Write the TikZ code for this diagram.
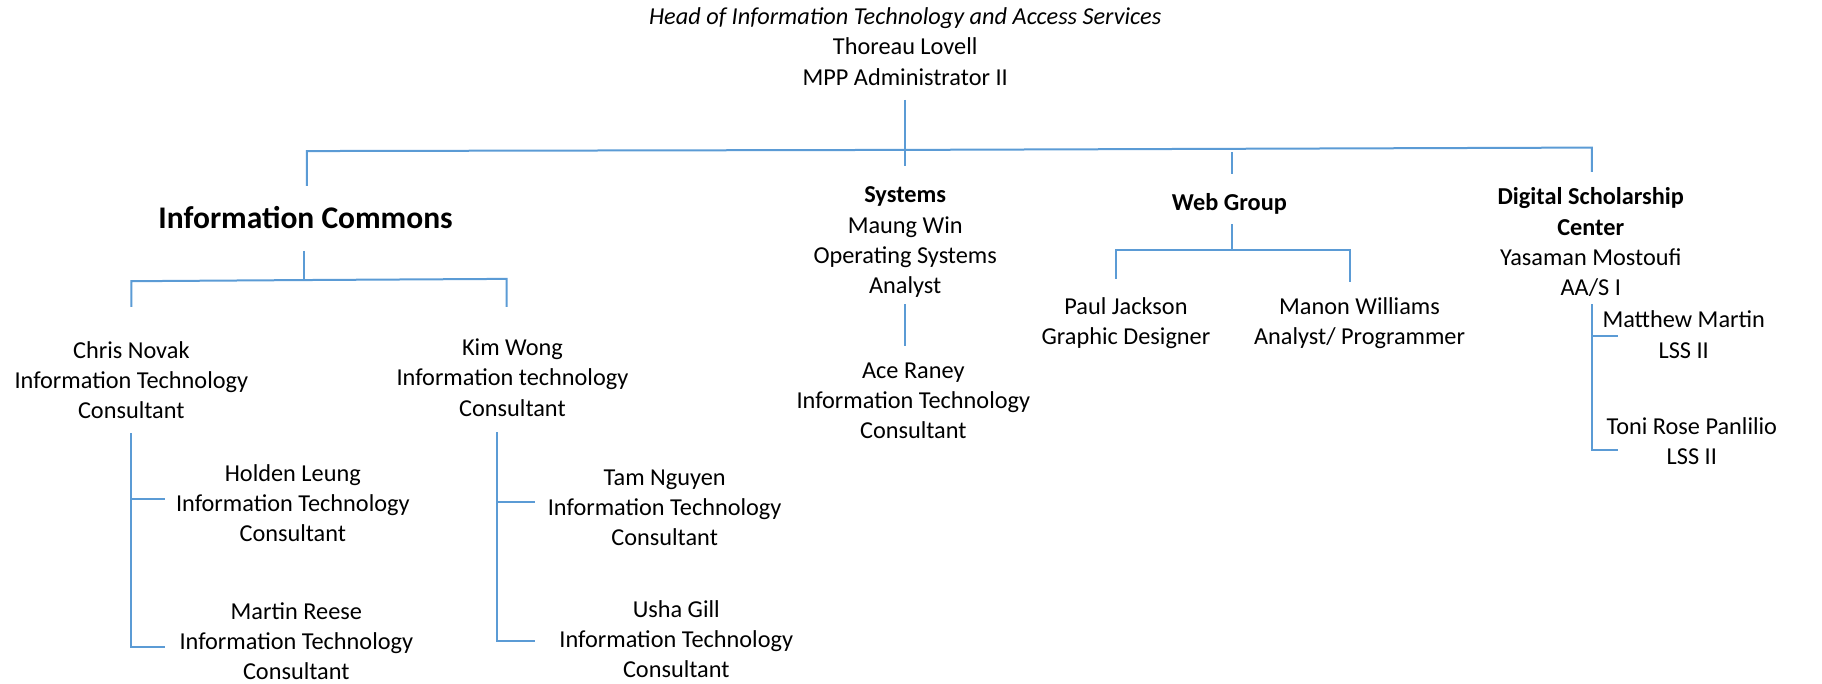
\documentclass[tikz,border=0pt]{standalone}
\usepackage{fontspec}
\setmainfont{Carlito}
\begin{document}
\begin{tikzpicture}[x=1.16199pt,y=-1.16199pt,
  every node/.style={inner sep=0pt,outer sep=0pt,align=center,font=\fontsize{24.3}{30.2}\selectfont},
  conn/.style={draw={rgb,255:red,91;green,155;blue,213},line width=2pt}]
\useasboundingbox (0,0) rectangle (1568,588);
% nodes
\node (head) at (779,40) {\textit{Head of Information Technology and Access Services}\\Thoreau Lovell\\MPP Administrator II};
\node[font=\fontsize{31.5}{36}\selectfont\bfseries] (ic) at (263,187) {Information Commons};
\node (chris) at (113,327) {Chris Novak\\Information Technology\\Consultant};
\node (kim) at (441,325) {Kim Wong\\Information technology\\Consultant};
\node (holden) at (252,433) {Holden Leung\\Information Technology\\Consultant};
\node (martin) at (255,552) {Martin Reese\\Information Technology\\Consultant};
\node (tam) at (572,437) {Tam Nguyen\\Information Technology\\Consultant};
\node (usha) at (582,550) {Usha Gill\\Information Technology\\Consultant};
\node (sys) at (779,208.5) {\textbf{Systems}\\Maung Win\\Operating Systems\\Analyst};
\node (ace) at (786,345) {Ace Raney\\Information Technology\\Consultant};
\node (web) at (1058,175.5) {\textbf{Web Group}};
\node (paul) at (969,278) {Paul Jackson\\Graphic Designer};
\node (manon) at (1170,278) {Manon Williams\\Analyst/ Programmer};
\node (dsc) at (1369,208.5) {\textbf{Digital Scholarship}\\\textbf{Center}\\Yasaman Mostoufi\\AA/S I};
\node (matt) at (1449,288) {Matthew Martin\\LSS II};
\node (toni) at (1456,379.5) {Toni Rose Panlilio\\LSS II};
% coordinates
\coordinate (h0) at (779,86);
\coordinate (h1) at (779,143);
\coordinate (hm) at (779,129);
\coordinate (bl) at (264,130);
\coordinate (br) at (1370,127);
\coordinate (icT) at (264,160);
\coordinate (webA) at (1060,131);
\coordinate (webT) at (1060,150);
\coordinate (dscT) at (1370,148);
\coordinate (ic0) at (262,216);
\coordinate (ic1) at (262,241);
\coordinate (icL) at (113,242);
\coordinate (icR) at (436,240);
\coordinate (chrisT) at (113,264);
\coordinate (kimT) at (436,264);
\coordinate (c0) at (113,373);
\coordinate (c1) at (113,557);
\coordinate (cH) at (142,429);
\coordinate (cM) at (142,557);
\coordinate (k0) at (428,372);
\coordinate (k1) at (428,552);
\coordinate (kT) at (460,432);
\coordinate (kU) at (460,552);
\coordinate (s0) at (779,262);
\coordinate (s1) at (779,298);
\coordinate (w0) at (1060,193);
\coordinate (w1) at (1060,215);
\coordinate (wL) at (960,215);
\coordinate (wR) at (1162,215);
\coordinate (paulT) at (960,240);
\coordinate (manonT) at (1162,243);
\coordinate (d0) at (1370,262);
\coordinate (d1) at (1370,387);
\coordinate (dM) at (1392,289);
\coordinate (dT) at (1392,387);
% connectors
\draw[conn] (h0) -- (h1);
\draw[conn] (icT) -- (bl) -- (hm) -- (br) -- (dscT);
\draw[conn] (webA) -- (webT);
\draw[conn] (ic0) -- (ic1);
\draw[conn] (chrisT) -- (icL) -- (ic1) -- (icR) -- (kimT);
\draw[conn] (c0) -- (c1) -- (cM);
\draw[conn] (c0 |- cH) -- (cH);
\draw[conn] (k0) -- (k1) -- (kU);
\draw[conn] (k0 |- kT) -- (kT);
\draw[conn] (s0) -- (s1);
\draw[conn] (w0) -- (w1);
\draw[conn] (paulT) -- (wL) -- (wR) -- (manonT);
\draw[conn] (d0) -- (d1) -- (dT);
\draw[conn] (d0 |- dM) -- (dM);
\end{tikzpicture}
\end{document}
